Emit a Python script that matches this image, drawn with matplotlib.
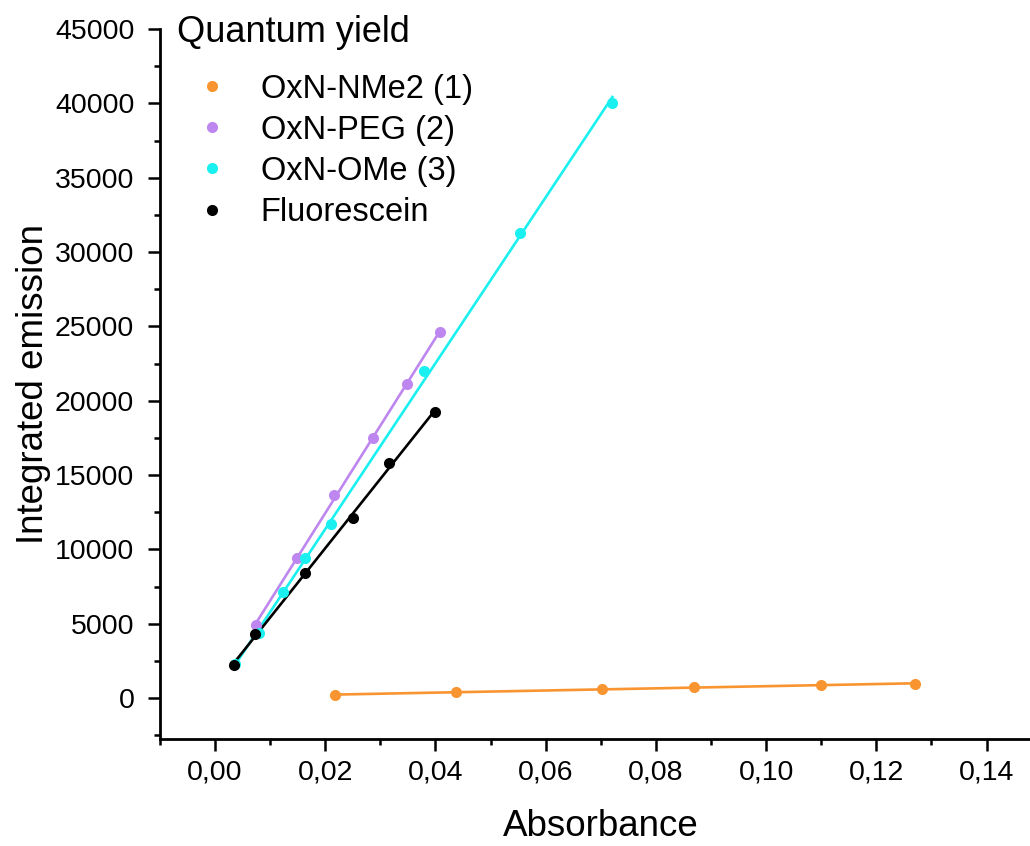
import numpy as np
import matplotlib
matplotlib.use("Agg")
import matplotlib.pyplot as plt
from matplotlib.ticker import MultipleLocator, FuncFormatter

plt.rcParams["font.family"] = ["Liberation Sans", "DejaVu Sans"]

# absorbance / integrated emission for each dye
nme2_abs = [0.0218, 0.0438, 0.0703, 0.0870, 0.1099, 0.1271]
nme2_em = [200, 420, 590, 740, 875, 965]

peg_abs = [0.0074, 0.0149, 0.0216, 0.0287, 0.0349, 0.0408]
peg_em = [4900, 9450, 13650, 17500, 21150, 24650]

ome_abs = [0.0037, 0.0079, 0.0124, 0.0164, 0.0211, 0.0379, 0.0553, 0.0721]
ome_em = [2300, 4350, 7130, 9440, 11700, 22000, 31300, 40000]

fluo_abs = [0.0034, 0.0072, 0.0164, 0.0250, 0.0315, 0.0399]
fluo_em = [2220, 4290, 8430, 12110, 15800, 19230]

series = [
    ("OxN-NMe2 (1)", nme2_abs, nme2_em, "#F99530"),
    ("OxN-PEG (2)", peg_abs, peg_em, "#BE87F0"),
    ("OxN-OMe (3)", ome_abs, ome_em, "#1AF0F0"),
    ("Fluorescein", fluo_abs, fluo_em, "#000000"),
]

fig = plt.figure(figsize=(10.30, 8.46), dpi=100)
ax = fig.add_axes([0.1553, 0.1265, 0.856, 0.8392])

for name, x, y, color in series:
    x = np.array(x)
    y = np.array(y)
    slope, icpt = np.polyfit(x, y, 1)
    xf = np.array([x.min(), x.max()])
    ax.plot(xf, slope * xf + icpt, color=color, lw=1.9, zorder=2)
    ax.plot(x, y, "o", color=color, ms=8, mec="none", label=name, zorder=3)

ax.set_xlim(-0.01, 0.15)
ax.set_ylim(-2750, 45000)

ax.xaxis.set_major_locator(MultipleLocator(0.02))
ax.xaxis.set_minor_locator(MultipleLocator(0.01))
ax.yaxis.set_major_locator(MultipleLocator(5000))
ax.yaxis.set_minor_locator(MultipleLocator(2500))
ax.xaxis.set_major_formatter(FuncFormatter(lambda v, p: f"{v:.2f}".replace(".", ",")))
ax.yaxis.set_major_formatter(FuncFormatter(lambda v, p: f"{v:.0f}"))

for side in ["top", "right"]:
    ax.spines[side].set_visible(False)
for side in ["left", "bottom"]:
    ax.spines[side].set_linewidth(2.0)

ax.tick_params(which="major", direction="out", length=8.5, width=1.8, labelsize=20.5)
ax.tick_params(which="minor", direction="out", length=4, width=1.8)
ax.tick_params(axis="y", which="major", pad=10)
ax.tick_params(axis="x", which="major", pad=6)

ax.set_xlabel("Absorbance", fontsize=26.5, labelpad=17)
ax.set_ylabel("Integrated emission", fontsize=26.5, labelpad=3)

# legend heading drawn on its own so the gap under it can be set freely
fig.text(0.172, 0.962, "Quantum yield", fontsize=26, ha="left", va="center")
ax.legend(loc="upper left", bbox_to_anchor=(0.174, 0.913), bbox_transform=fig.transFigure,
          frameon=False, fontsize=23.5, handletextpad=0.5, labelspacing=0.31,
          borderaxespad=0, borderpad=0)

fig.savefig("out.png", dpi=100)
